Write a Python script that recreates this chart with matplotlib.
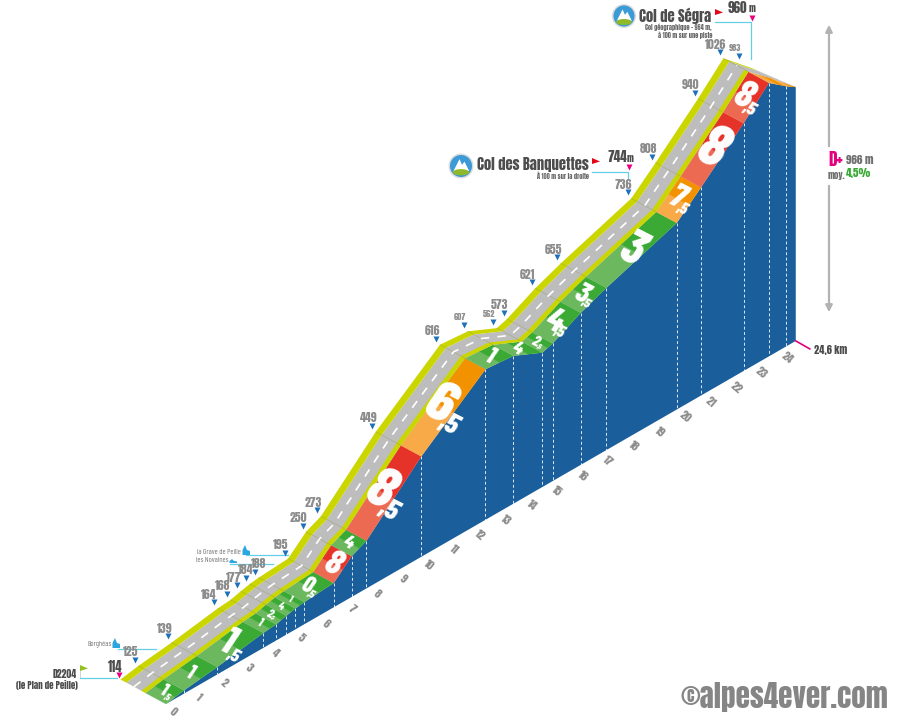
import matplotlib
matplotlib.use("Agg")
import matplotlib.pyplot as plt
from matplotlib.patches import Polygon, Circle, Ellipse
import numpy as np
import logging
logging.getLogger("matplotlib.font_manager").setLevel(logging.ERROR)

# ---- data ----
km = [0, 0.7, 2.0, 3.8, 4.3, 4.7, 5.05, 5.4, 6.55, 7.25, 7.83, 9.97, 12.48, 13.57, 14.7, 15.1, 16.2, 17.2,
      19.95, 20.9, 22.56, 23.55, 24.2, 24.6]
alt = [114, 125, 139, 164, 168, 177, 184, 188, 195, 250, 273, 449, 616, 607, 562, 573, 621, 655,
       736, 808, 940, 1026, 983, 960]
grades = [1.5, 1, 1.5, 1, 2.5, 4, 1, 0.5, 8, 4, 8.5, 6.5, 1, 4, 2.5, 4.5, 3.5, 3, 7.5, 8, 8.5, 6.5, 5.5]
km_ticks = list(range(25))
total_km_label = "24,6 km"
alt_small = [607, 562, 983]

# ---- styles / layout ----
X0, Y0, PX_KM, PY_KM, PY_M = 166, 704, 25.6, 14.76, 0.30
DEPTH = np.array([-45.5, -24.5])
taper = np.ones(len(km)); taper[-2] = 0.72; taper[-1] = 0.0
F_COLOUR, F_KERB1, F_ROAD, F_KERB2 = 0.45, 0.54, 0.87, 1.0
GRADE_SIZE = [14, 15, 28, 9, 9, 8, 7, 17, 26, 14, 43, 43, 18, 14, 11, 24, 21, 35, 24, 44, 29, 0, 0]
LABEL_DX = {164: -6, 168: -5, 177: -4, 184: -1, 188: 3}
LABEL_SHIFT = {983: (-10, -6)}
FONT = ["Anton", "Oswald", "Liberation Sans", "DejaVu Sans"]
GFONT = ["Barlow Condensed", "Liberation Sans", "DejaVu Sans"]
BLUE, KERB, ROAD = "#1a5e9b", "#cbd600", "#bdbdbd"
GREY, DARK, PINK, CYAN, TRI = "#8c8c8c", "#4d4d4d", "#e6007e", "#66cfe8", "#1d71b8"
TONES = {"g": ("#3aaa35", "#6cb85f"), "o": ("#f39200", "#f8aa48"), "r": ("#e6332a", "#ec6a52")}


def tone(g):
    return TONES["r"] if g >= 8 else (TONES["o"] if g > 5 else TONES["g"])


def base(k):
    k = np.asarray(k, float)
    return np.column_stack([X0 + PX_KM * k, Y0 - PY_KM * k])


def top(k, a):
    p = base(k)
    p[:, 1] -= PY_M * (np.asarray(a, float) - alt[0])
    return p


K, A = np.array(km), np.array(alt)
T = top(K, A)


def layer(f):
    return T + f * DEPTH[None, :] * taper[:, None]


fig = plt.figure(figsize=(9, 7.2), dpi=100)
ax = fig.add_axes([0, 0, 1, 1])
ax.set_xlim(0, 900)
ax.set_ylim(720, 0)
ax.axis("off")


def txt(x, y, s, size=8, color=GREY, ha="center", va="center", weight="normal", rot=0, style="normal", z=10,
        family=None):
    return ax.text(x, y, s, fontsize=size, color=color, ha=ha, va=va, fontweight=weight, rotation=rot,
                   family=family or FONT, style=style, zorder=z, rotation_mode="anchor")


# blue wall
B = base(K)
ax.add_patch(Polygon(np.vstack([T, B[::-1]]), fc=BLUE, ec="none", zorder=1))
for t, b in zip(T[1:-1], B[1:-1]):
    ax.plot([t[0], b[0]], [t[1], b[1]], color="white", lw=0.7, ls=(0, (3, 2.5)), alpha=0.85, zorder=2)

# gradient band
L1 = layer(F_COLOUR)
for i, g in enumerate(grades):
    dark, light = tone(g)
    m_t = T[i] + 0.5 * (T[i + 1] - T[i])
    m_l = L1[i] + 0.5 * (L1[i + 1] - L1[i])
    ax.add_patch(Polygon([T[i], m_t, m_l, L1[i]], fc=light, ec=light, lw=0.2, zorder=2))
    ax.add_patch(Polygon([m_t, T[i + 1], L1[i + 1], m_l], fc=dark, ec=dark, lw=0.2, zorder=2))
    sz = GRADE_SIZE[i]
    if sz:
        c = 0.25 * (T[i] + T[i + 1] + L1[i] + L1[i + 1])
        major, minor = int(g), int(round(10 * (g - int(g))))
        u = np.array([np.cos(np.radians(27)), np.sin(np.radians(27))])
        v = np.array([u[1], -u[0]])
        shift = -0.10 * sz * u if minor else 0 * u
        txt(c[0] + shift[0], c[1] + shift[1], str(major), sz, "white", rot=-27, style="italic", weight=800,
            z=6, family=GFONT)
        if minor:
            p = c + 0.28 * sz * u - v * 0.30 * sz
            txt(p[0], p[1], f",{minor}", sz * 0.48, "white", rot=-27, style="italic", weight=800, z=6, family=GFONT)

# kerbs and road
L2, L3, L4 = layer(F_KERB1), layer(F_ROAD), layer(F_KERB2)
ax.add_patch(Polygon(np.vstack([L1, L3[::-1]]), fc=ROAD, ec="none", zorder=3))
ax.add_patch(Polygon(np.vstack([L1[:-2], L2[:-2][::-1]]), fc=KERB, ec="none", zorder=3))
ax.add_patch(Polygon(np.vstack([L3[:-1], L4[:-1][::-1]]), fc=KERB, ec="none", zorder=3))
ax.add_patch(Polygon(np.vstack([L3[-2:], L4[-2][None, :]]), fc=ROAD, ec="none", zorder=3))
for p, q in zip(L1[1:-2], L4[1:-2]):
    ax.plot([p[0], q[0]], [p[1], q[1]], color="#8f9a55", lw=0.4, alpha=0.6, zorder=4)
mid = layer(0.5 * (F_KERB1 + F_ROAD))
ax.plot(mid[:-2, 0], mid[:-2, 1], color="white", lw=1.2, ls=(0, (5, 5)), zorder=4)

# altitude labels
TRI_DX, TRI_DY = -3.5, -6
for a, p in zip(alt[1:-1], L4[1:-1]):
    small = a in alt_small
    sx, sy = LABEL_SHIFT.get(a, (0, 0))
    tx, ty = p[0] + TRI_DX + sx, p[1] + TRI_DY + sy
    ax.plot(tx, ty, marker="v", ms=4.2, color=TRI, mec="none", zorder=8)
    txt(tx + LABEL_DX.get(a, -4), ty - 8, str(a), 6 if small else 8.5)
p0 = L4[0]
ax.plot(p0[0] - 2, p0[1] - 5, marker="v", ms=5, color=PINK, mec="none", zorder=8)
txt(p0[0] - 5, p0[1] - 13, str(alt[0]), 9, DARK)

# km ticks
for k in km_ticks:
    p = base([k])[0]
    txt(p[0] + 7, p[1] + 8, str(k), 8, GREY, rot=-40)

# end tick
e = base([km[-1]])[0]
ax.plot([e[0], e[0] + 14], [e[1], e[1] + 8], color=PINK, lw=1.2, zorder=5)
txt(e[0] + 18, e[1] + 9, total_km_label, 7.5, DARK, ha="left")

# D+ arrow
ARX = 829
ax.annotate("", xy=(ARX, 22), xytext=(ARX, 149), arrowprops=dict(arrowstyle="-|>", color="#b2b2b2", lw=1.6))
ax.annotate("", xy=(ARX, 315), xytext=(ARX, 183), arrowprops=dict(arrowstyle="-|>", color="#b2b2b2", lw=1.6))
txt(828, 159, "D+", 12.5, PINK, ha="left")
txt(846, 160, "966 m", 8, "#6f6f6f", ha="left")
txt(828, 175, "moy.", 6.5, "#6f6f6f", ha="left")
txt(846, 173, "4,5%", 8, "#3aaa35", ha="left")


# col logos
def logo(cx, cy, r):
    ax.add_patch(Circle((cx, cy), r, fc="#dcdcdc", ec="none", zorder=6))
    ax.add_patch(Circle((cx, cy), r * 0.88, fc="#3c9ad6", ec="none", zorder=7))
    ax.add_patch(Polygon([(cx - r * .6, cy + r * .4), (cx - r * .12, cy - r * .55), (cx + r * .08, cy - r * .1),
                          (cx + r * .28, cy - r * .35), (cx + r * .65, cy + r * .4)], fc="white", ec="none", zorder=8))
    ax.add_patch(Ellipse((cx, cy + r * .5), r * 1.3, r * .5, fc="#8fb82b", ec="none", zorder=9))


def flag(x, y, color):
    ax.add_patch(Polygon([(x, y - 5), (x + 8, y - 1.5), (x, y + 1)], fc=color, ec="none", zorder=6))


def cyan(xs, ys):
    ax.plot(xs, ys, color=CYAN, lw=0.9, zorder=5)


logo(624, 16, 12)
txt(639, 16, "Col de Ségra", 10.5, DARK, ha="left")
txt(712, 27, "Col géographique - 964 m,", 4.5, "#666666", ha="right")
txt(712, 35, "à 100 m sur une piste", 4.5, "#666666", ha="right")
flag(715, 14, "#e30613")
txt(728, 8, "960", 9.5, DARK, ha="left")
txt(749, 9, "m", 6.5, DARK, ha="left")
ax.plot(752, 18, marker="v", ms=5, color=PINK, mec="none", zorder=8)
cyan([715, 751, 751], [22, 22, 59])

logo(461, 166, 12.5)
txt(477, 165, "Col des Banquettes", 10.5, DARK, ha="left")
txt(589, 176, "À 100 m sur la droite", 4.5, "#666666", ha="right")
flag(592, 163, "#e30613")
txt(608, 157, "744", 9.5, DARK, ha="left")
txt(627, 158, "m", 6.5, DARK, ha="left")
ax.plot(629, 167, marker="v", ms=5, color=PINK, mec="none", zorder=8)
cyan([592, 628, 628], [172, 172, 179])

# start + villages
txt(77, 674, "D2204", 7, DARK, ha="right")
txt(78, 685, "(le Plan de Peille)", 6.5, DARK, ha="right")
ax.plot([80, 80], [666, 678], color="#cccccc", lw=0.6, zorder=5)
flag(80, 670, "#95c11f")
cyan([80, 117], [678, 678])

SM = ["Barlow Condensed", "Liberation Sans", "DejaVu Sans"]
txt(112, 645, "Borghéas", 5.5, "#7a7a7a", ha="right", family=SM)
txt(241, 552, "la Grave de Peille", 5.5, "#7a7a7a", ha="right", family=SM)
txt(228, 561, "les Novaines", 5.5, "#7a7a7a", ha="right", family=SM)
for cx, cy, h in [(116, 648, 10), (246, 555, 10), (233, 563, 4)]:
    ax.add_patch(Polygon([(cx - 3.5, cy), (cx - 3.5, cy - h * .5), (cx - 1, cy - h), (cx + 1, cy - h * .5),
                          (cx + 4, cy - h * .4), (cx + 4, cy)], fc="#2ba6de", ec="none", zorder=6))
cyan([118, 156], [649, 649])
cyan([246, 288], [555, 555])
cyan([230, 273], [564, 564])

txt(888, 697, "©alpes4ever.com", 21, "#858585", ha="right")

fig.savefig("out.png", dpi=100)
